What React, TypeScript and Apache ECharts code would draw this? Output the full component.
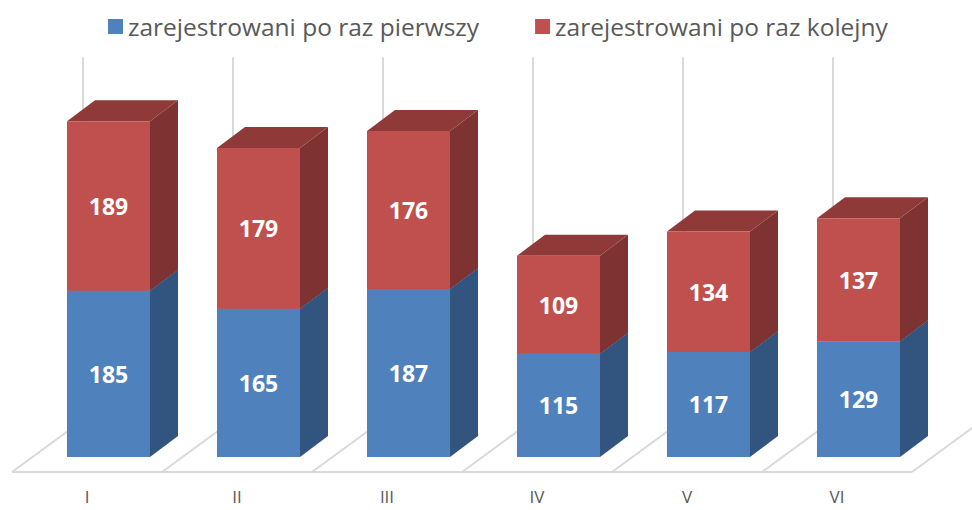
import React, { useEffect, useRef } from "react";
import * as echarts from "echarts";

const categories = ["I", "II", "III", "IV", "V", "VI"];
const firstTime = [185, 165, 187, 115, 117, 129];
const nextTime = [189, 179, 176, 109, 134, 137];
const seriesNames = ["zarejestrowani po raz pierwszy", "zarejestrowani po raz kolejny"];

const FONT = "'Open Sans', 'Noto Sans', sans-serif";
const FLOOR_DX = 71;
const FLOOR_DY = -52;
const BAR_FRONT_DX = -20;
const BAR_FRONT_DY = -15;
const BAR_W = 83;
const BAR_DX = 28;
const BAR_DY = -21;
const WALL_TOP_VALUE = 404;

const palettes = [
  { front: "#4F81BD", side: "#325580", top: "#3C6496" },
  { front: "#C0504D", side: "#7E3231", top: "#8F3A38" },
];

function makeBarRender(p: { front: string; side: string; top: string }) {
  return (params: any, api: any) => {
    const idx = api.value(0);
    const base = api.value(1);
    const top = api.value(2);
    const shown = api.value(3);
    const c0 = api.coord([idx, base]);
    const c1 = api.coord([idx, top]);
    const xl = c0[0] + BAR_FRONT_DX;
    const xr = xl + BAR_W;
    const yb = c0[1] + BAR_FRONT_DY;
    const yt = c1[1] + BAR_FRONT_DY;
    return {
      type: "group",
      children: [
        {
          type: "polygon",
          shape: { points: [[xr, yb], [xr + BAR_DX, yb + BAR_DY], [xr + BAR_DX, yt + BAR_DY], [xr, yt]] },
          style: { fill: p.side },
        },
        {
          type: "polygon",
          shape: { points: [[xl, yt], [xr, yt], [xr + BAR_DX, yt + BAR_DY], [xl + BAR_DX, yt + BAR_DY]] },
          style: { fill: p.top },
        },
        {
          type: "rect",
          shape: { x: xl, y: yt, width: BAR_W, height: yb - yt },
          style: { fill: p.front },
        },
        {
          type: "text",
          x: (xl + xr) / 2,
          y: (yt + yb) / 2,
          style: {
            text: String(shown),
            fill: "#FFFFFF",
            font: `bold 23px ${FONT}`,
            align: "center",
            verticalAlign: "middle",
          },
        },
      ],
    };
  };
}

function floorRender(params: any, api: any) {
  const idx = api.value(0);
  const c = api.coord([idx, 0]);
  const bw = api.size([1, 0])[0];
  const wallTop = api.coord([idx, WALL_TOP_VALUE])[1] + FLOOR_DY;
  const lineStyle = { stroke: "#D9D9D9", lineWidth: 2, fill: "none" };
  const children: any[] = [];
  const bounds = [c[0] - bw / 2];
  if (idx === categories.length - 1) bounds.push(c[0] + bw / 2);
  for (const bx of bounds) {
    children.push({
      type: "polyline",
      shape: { points: [[bx, c[1]], [bx + FLOOR_DX, c[1] + FLOOR_DY], [bx + FLOOR_DX, wallTop]] },
      style: lineStyle,
    });
  }
  children.push({
    type: "line",
    shape: { x1: c[0] - bw / 2, y1: c[1], x2: c[0] + bw / 2, y2: c[1] },
    style: lineStyle,
  });
  return { type: "group", children };
}

export default function App() {
  const ref = useRef<HTMLDivElement>(null);
  useEffect(() => {
    if (!ref.current) return;
    const chart = echarts.init(ref.current, undefined, { renderer: "svg" });
    const firstData = categories.map((_, i) => [i, 0, firstTime[i], firstTime[i]]);
    const nextData = categories.map((_, i) => [
      i,
      firstTime[i],
      firstTime[i] + nextTime[i],
      nextTime[i],
    ]);
    chart.setOption({
      animation: false,
      backgroundColor: "#FFFFFF",
      legend: {
        data: seriesNames,
        left: 103,
        top: 9,
        icon: "rect",
        itemWidth: 15,
        itemHeight: 15,
        itemGap: 56,
        textStyle: { fontSize: 24.5, color: "#595959", fontFamily: FONT },
      },
      grid: { left: 12, top: 23, width: 900, height: 449 },
      xAxis: {
        type: "category",
        data: categories,
        axisLine: { show: false },
        axisTick: { show: false },
        axisLabel: { color: "#595959", fontSize: 17, fontFamily: FONT, margin: 16 },
      },
      yAxis: { type: "value", min: 0, max: 500, show: false },
      series: [
        {
          type: "custom",
          name: "floor",
          z: 1,
          silent: true,
          renderItem: floorRender,
          data: categories.map((_, i) => [i, 0]),
        },
        {
          type: "custom",
          name: seriesNames[0],
          z: 2,
          itemStyle: { color: palettes[0].front },
          renderItem: makeBarRender(palettes[0]),
          data: firstData,
        },
        {
          type: "custom",
          name: seriesNames[1],
          z: 3,
          itemStyle: { color: palettes[1].front },
          renderItem: makeBarRender(palettes[1]),
          data: nextData,
        },
      ],
    });
    return () => chart.dispose();
  }, []);
  return (
    <div
      ref={ref}
      style={{ position: "absolute", left: 0, top: 0, width: 972, height: 510 }}
    />
  );
}
